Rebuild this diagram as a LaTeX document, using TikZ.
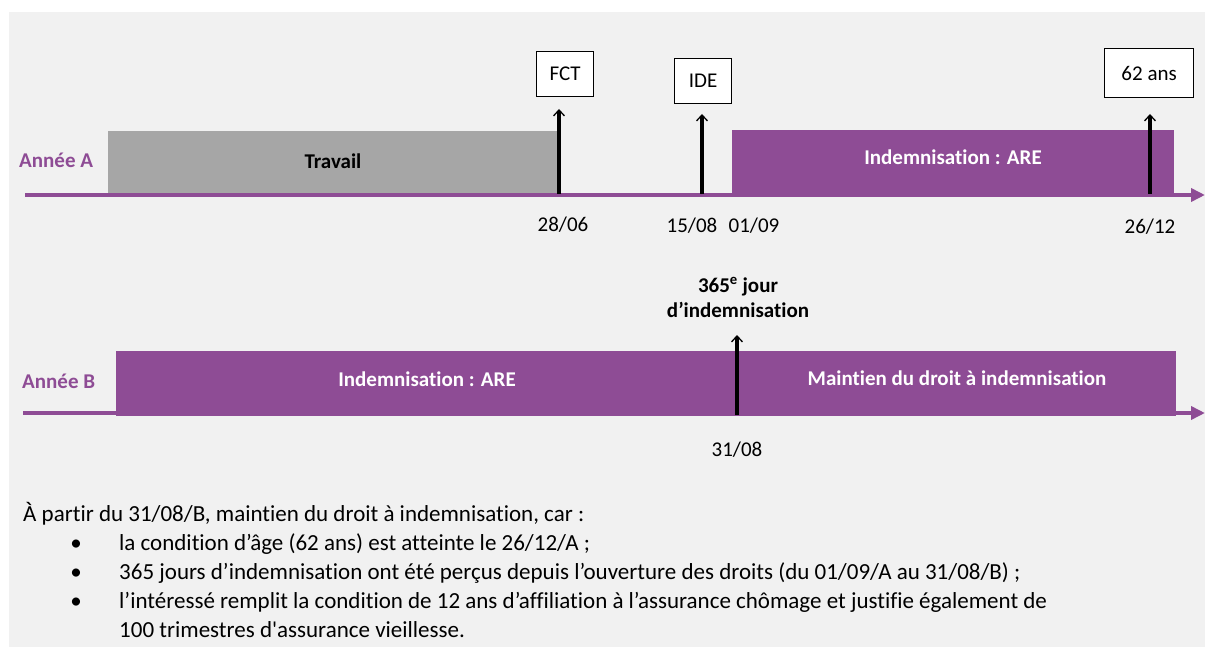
\documentclass[tikz,border=0pt]{standalone}
\usepackage{fontspec}
\setmainfont{Carlito}[Ligatures={TeXOff,NoCommon}]
\usetikzlibrary{arrows.meta}
\definecolor{bg}{HTML}{F1F1F1}
\definecolor{pur}{HTML}{8E4C95}
\definecolor{grayb}{HTML}{A6A6A6}
\begin{document}
\begin{tikzpicture}[x=1pt,y=-1pt,
  lbl/.style={font=\fontsize{21}{25}\selectfont, inner sep=0pt, anchor=base},
  blbl/.style={lbl, font=\fontsize{21}{25}\selectfont\bfseries},
  year/.style={blbl, text=pur, anchor=base west},
  para/.style={font=\fontsize{23}{28}\selectfont, inner sep=0pt, anchor=base west},
  tl/.style={draw=pur, line width=4pt, -{Triangle[length=14pt,width=13pt]}},
  bar/.style={fill=#1, draw=none, inner sep=0pt, anchor=north west},
  evbox/.style={draw=black, line width=1.3pt, fill=white, inner sep=0pt,
    font=\fontsize{21}{25}\selectfont, anchor=north west},
  ev/.style={draw=black, line width=3.2pt,
    -{Straight Barb[length=6pt,width=11pt,line width=1.3pt]}},
]
\useasboundingbox (0,0) rectangle (1205,655);
\fill[bg] (9,12) rectangle (1205,647);

% ---------- Année A ----------
\node[year] (anA) at (19,168) {Année A};
\coordinate (la0) at (25,195);
\coordinate (la1) at (1205,195);
\draw[tl] (la0) -- (la1);

\node[bar=grayb, minimum width=450pt, minimum height=62pt] (trav) at (108,131) {};
\node[blbl] (travt) at (333,169) {Travail};
\node[bar=pur, minimum width=442pt, minimum height=67pt] (areA) at (732,130) {};
\node[blbl, text=white] (areAt) at (953,165) {Indemnisation : ARE};

\node[evbox, minimum width=57pt, minimum height=45pt] (fct) at (536,51) {FCT};
\node[evbox, minimum width=57pt, minimum height=45pt] (ide) at (674,58) {IDE};
\node[evbox, minimum width=89pt, minimum height=49pt] (age) at (1104,48) {62 ans};

\coordinate (fct0) at (559,194);
\coordinate (fct1) at (559,109);
\coordinate (ide0) at (702,194);
\coordinate (ide1) at (702,114);
\coordinate (age0) at (1150,194);
\coordinate (age1) at (1150,114);
\draw[ev] (fct0) -- (fct1);
\draw[ev] (ide0) -- (ide1);
\draw[ev] (age0) -- (age1);

\node[lbl] (d1) at (563,232) {28/06};
\node[lbl] (d2) at (692,233) {15/08};
\node[lbl] (d3) at (754,233) {01/09};
\node[lbl] (d4) at (1150,234) {26/12};

% ---------- Année B ----------
\node[blbl, anchor=base] (j365) at (738,292) {365\textsuperscript{e} jour};
\node[blbl, anchor=base] (j365b) at (738,317) {d’indemnisation};

\node[year] (anB) at (22,388) {Année B};
\coordinate (lb0) at (23,413);
\coordinate (lb1) at (1205,413);
\draw[tl] (lb0) -- (lb1);

\node[bar=pur, minimum width=621pt, minimum height=65pt] (areB) at (116,351) {};
\node[bar=pur, minimum width=440pt, minimum height=65pt] (mnt) at (736,351) {};
\node[blbl, text=white] (areBt) at (427,386) {Indemnisation : ARE};
\node[blbl, text=white] (mntt) at (957,385) {Maintien du droit à indemnisation};

\coordinate (j0) at (737,415);
\coordinate (j1) at (737,335);
\draw[ev] (j0) -- (j1);
\node[lbl] (d5) at (737,456) {31/08};

% ---------- Texte ----------
\node[para] (p0) at (23,521) {À partir du 31/08/B, maintien du droit à indemnisation, car :};
\node[para, anchor=base] (b1) at (76,550) {•};
\node[para, anchor=base] (b2) at (76,579) {•};
\node[para, anchor=base] (b3) at (76,608) {•};
\node[para] (p1) at (119,550) {la condition d’âge (62 ans) est atteinte le 26/12/A ;};
\node[para] (p2) at (119,579) {365 jours d’indemnisation ont été perçus depuis l’ouverture des droits (du 01/09/A au 31/08/B) ;};
\node[para] (p3) at (119,608) {l’intéressé remplit la condition de 12 ans d’affiliation à l’assurance chômage et justifie également de};
\node[para] (p4) at (119,637) {100 trimestres d'assurance vieillesse.};
\end{tikzpicture}
\end{document}
